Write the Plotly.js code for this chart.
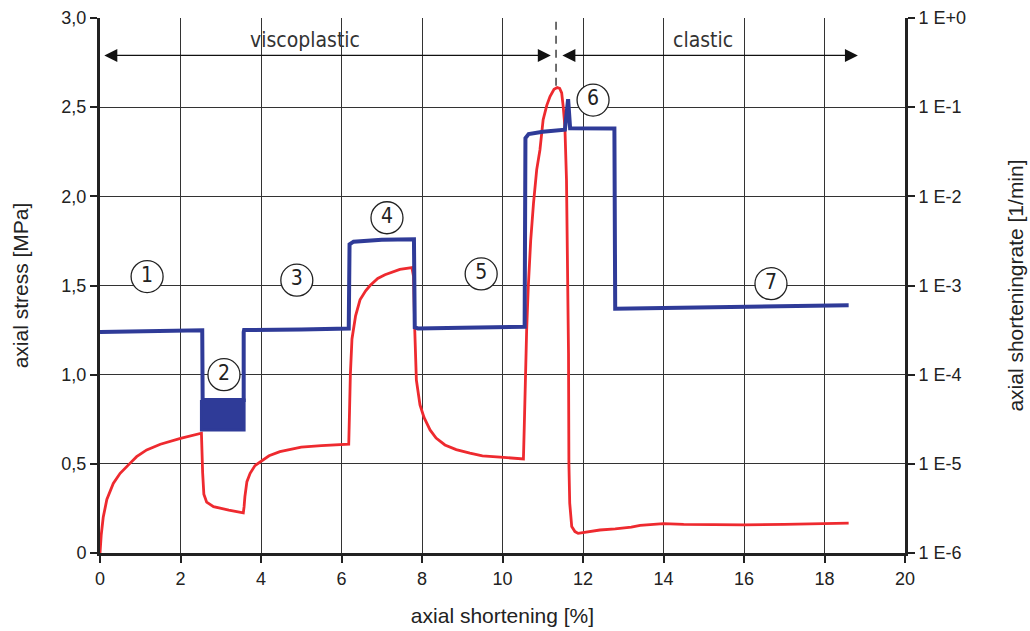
<!DOCTYPE html>
<html>
<head>
<meta charset="utf-8">
<script src="https://cdn.plot.ly/plotly-3.0.1.min.js"></script>
<style>html,body{margin:0;padding:0;background:#fff;}#chart{width:1030px;height:631px;}</style>
</head>
<body>
<div id="chart"></div>
<script>
// Axial stress (red, left axis, MPa)
const stressX = [0,0.03,0.08,0.17,0.33,0.5,0.75,0.91,1.16,1.5,2.0,2.5,2.52,2.55,2.58,2.65,2.82,3.2,3.56,3.58,3.6,3.65,3.73,3.85,3.98,4.2,4.47,5.0,5.5,6.0,6.18,6.2,6.22,6.26,6.35,6.46,6.6,6.71,6.9,7.08,7.3,7.45,7.75,7.79,7.82,7.86,7.95,8.05,8.2,8.35,8.57,8.85,9.19,9.5,9.94,10.3,10.52,10.54,10.56,10.6,10.64,10.7,10.77,10.85,10.93,11.01,11.1,11.18,11.28,11.36,11.42,11.47,11.51,11.55,11.59,11.62,11.64,11.65,11.67,11.72,11.8,11.88,12.1,12.42,12.8,13.0,13.2,13.42,13.8,14.0,14.5,15,16,17,18,18.6];
const stressY = [0,0.1,0.2,0.3,0.39,0.447,0.504,0.54,0.578,0.61,0.643,0.671,0.672,0.45,0.33,0.285,0.26,0.24,0.225,0.26,0.316,0.4,0.447,0.49,0.512,0.545,0.568,0.594,0.602,0.606,0.61,0.8,1.0,1.2,1.33,1.42,1.47,1.5,1.54,1.56,1.58,1.59,1.6,1.55,1.25,0.97,0.83,0.76,0.69,0.645,0.606,0.58,0.56,0.545,0.538,0.53,0.527,0.7,0.93,1.25,1.49,1.75,1.96,2.15,2.26,2.43,2.51,2.56,2.6,2.61,2.605,2.58,2.5,2.39,2.09,1.6,1.12,0.5,0.28,0.148,0.12,0.11,0.118,0.129,0.135,0.138,0.145,0.155,0.16,0.165,0.16,0.158,0.158,0.16,0.163,0.167];

// Axial shortening rate (blue, right axis, 1/min)
const rateX = [0,1.0,2.0,2.54,2.55,3.57,3.57,3.58,5,6.18,6.2,6.3,7.0,7.8,7.82,7.9,9,10.55,10.57,10.65,11.0,11.55,11.63,11.68,12.78,12.8,14,16,18.6];
const rateY = [3.0e-4,3.05e-4,3.1e-4,3.15e-4,5.2e-5,5.2e-5,3.0e-4,3.16e-4,3.2e-4,3.3e-4,2.9e-3,3.1e-3,3.25e-3,3.3e-3,3.4e-4,3.3e-4,3.35e-4,3.45e-4,0.045,0.05,0.053,0.056,0.123,0.058,0.0575,5.5e-4,5.6e-4,5.8e-4,6.0e-4];

// Oscillating-rate band (stage 2)
const bandX = [2.52, 3.58];
const bandTop = 5.2e-5;
const bandBottom = 2.4e-5;

// Stage markers
const stageLabels = ['1','2','3','4','5','6','7'];
const stageX = [1.17, 3.08, 4.89, 7.13, 9.47, 12.25, 16.67];
const stageY = [1.55, 1.0, 1.53, 1.88, 1.565, 2.54, 1.51];

// Axis ticks
const xTicks = [0,2,4,6,8,10,12,14,16,18,20];
const yTicks = [0,0.5,1.0,1.5,2.0,2.5,3.0];
const yTickText = ['0','0,5','1,0','1,5','2,0','2,5','3,0'];
const y2Ticks = [1e-6,1e-5,1e-4,1e-3,1e-2,1e-1,1];
const y2TickText = ['1 E-6','1 E-5','1 E-4','1 E-3','1 E-2','1 E-1','1 E+0'];

// Regime boundary and arrows
const boundaryX = 11.33;
const boundaryY = [2.62, 3.0];
const arrowY = 2.79;
const viscoRange = [0.07, 11.2];
const clasticRange = [11.45, 18.83];
const regimeLabels = ['viscoplastic', 'clastic'];
const regimeLabelX = [5.1, 14.98];
const regimeLabelY = 2.875;

const blue = '#2f3b98';
const red = '#ee2a2f';
const fontMain = "Arial, 'Liberation Sans', sans-serif";
const fontNarrow = "'Liberation Sans Narrow', 'Arial Narrow', 'DejaVu Sans Condensed', sans-serif";

const traces = [
  {
    x: [bandX[0], bandX[1], bandX[1], bandX[0], bandX[0]],
    y: [bandTop, bandTop, bandBottom, bandBottom, bandTop],
    yaxis: 'y2', mode: 'lines', fill: 'toself', fillcolor: blue,
    line: {color: blue, width: 3}, hoverinfo: 'skip', showlegend: false
  },
  {
    x: rateX, y: rateY, yaxis: 'y2', mode: 'lines',
    line: {color: blue, width: 4}, showlegend: false
  },
  {
    x: stressX, y: stressY, mode: 'lines',
    line: {color: red, width: 2.8}, showlegend: false
  },
  {
    x: stageX, y: stageY, mode: 'markers+text', text: stageLabels,
    textposition: 'middle center',
    textfont: {family: fontNarrow, size: 21, color: '#222'},
    marker: {size: 32, color: 'white', line: {color: '#222', width: 1.3}},
    showlegend: false, hoverinfo: 'skip'
  }
];

const annotations = [
  {x: viscoRange[1], y: arrowY, ax: viscoRange[0], ay: arrowY, xref: 'x', yref: 'y', axref: 'x', ayref: 'y',
   showarrow: true, arrowhead: 2, startarrowhead: 2, arrowside: 'end+start', arrowsize: 2, arrowwidth: 1.3, arrowcolor: '#111', text: ''},
  {x: clasticRange[1], y: arrowY, ax: clasticRange[0], ay: arrowY, xref: 'x', yref: 'y', axref: 'x', ayref: 'y',
   showarrow: true, arrowhead: 2, startarrowhead: 2, arrowside: 'end+start', arrowsize: 2, arrowwidth: 1.3, arrowcolor: '#111', text: ''},
  {x: regimeLabelX[0], y: regimeLabelY, xref: 'x', yref: 'y', text: regimeLabels[0], showarrow: false,
   font: {family: fontNarrow, size: 21, color: '#333'}},
  {x: regimeLabelX[1], y: regimeLabelY, xref: 'x', yref: 'y', text: regimeLabels[1], showarrow: false,
   font: {family: fontNarrow, size: 21, color: '#333'}}
];

const layout = {
  width: 1030, height: 631,
  margin: {l: 100, r: 125, t: 18, b: 78},
  paper_bgcolor: 'white', plot_bgcolor: 'white',
  font: {family: fontMain, size: 18, color: '#222'},
  xaxis: {
    range: [0, 20], tickvals: xTicks, ticks: 'outside', ticklen: 7, tickwidth: 2, tickcolor: '#222',
    showline: true, linewidth: 3, linecolor: '#222', showgrid: true, gridcolor: '#333', gridwidth: 1,
    zeroline: false, title: {text: 'axial shortening [%]', font: {family: fontMain, size: 21}, standoff: 21},
    tickfont: {family: fontMain, size: 18}
  },
  yaxis: {
    range: [0, 3.0], tickvals: yTicks, ticktext: yTickText, ticks: 'outside', ticklen: 7, tickwidth: 2, tickcolor: '#222',
    showline: true, linewidth: 3, linecolor: '#222', showgrid: true, gridcolor: '#333', gridwidth: 1,
    zeroline: false, title: {text: 'axial stress [MPa]', font: {family: fontMain, size: 21}, standoff: 28},
    tickfont: {family: fontMain, size: 18}
  },
  yaxis2: {
    type: 'log', range: [-6, 0], overlaying: 'y', side: 'right',
    tickvals: y2Ticks, ticktext: y2TickText, ticks: 'outside', ticklen: 7, tickwidth: 2, tickcolor: '#222',
    showline: true, linewidth: 3, linecolor: '#222', showgrid: false, zeroline: false,
    title: {text: 'axial shorteningrate [1/min]', font: {family: fontMain, size: 21}, standoff: 44},
    tickfont: {family: fontMain, size: 18}
  },
  shapes: [
    {type: 'line', xref: 'x', yref: 'y', x0: boundaryX, x1: boundaryX, y0: boundaryY[0], y1: boundaryY[1],
     line: {color: '#222', width: 1.3, dash: '8px,6px'}}
  ],
  annotations: annotations
};

Plotly.newPlot('chart', traces, layout, {displayModeBar: false, staticPlot: true});
</script>
</body>
</html>
